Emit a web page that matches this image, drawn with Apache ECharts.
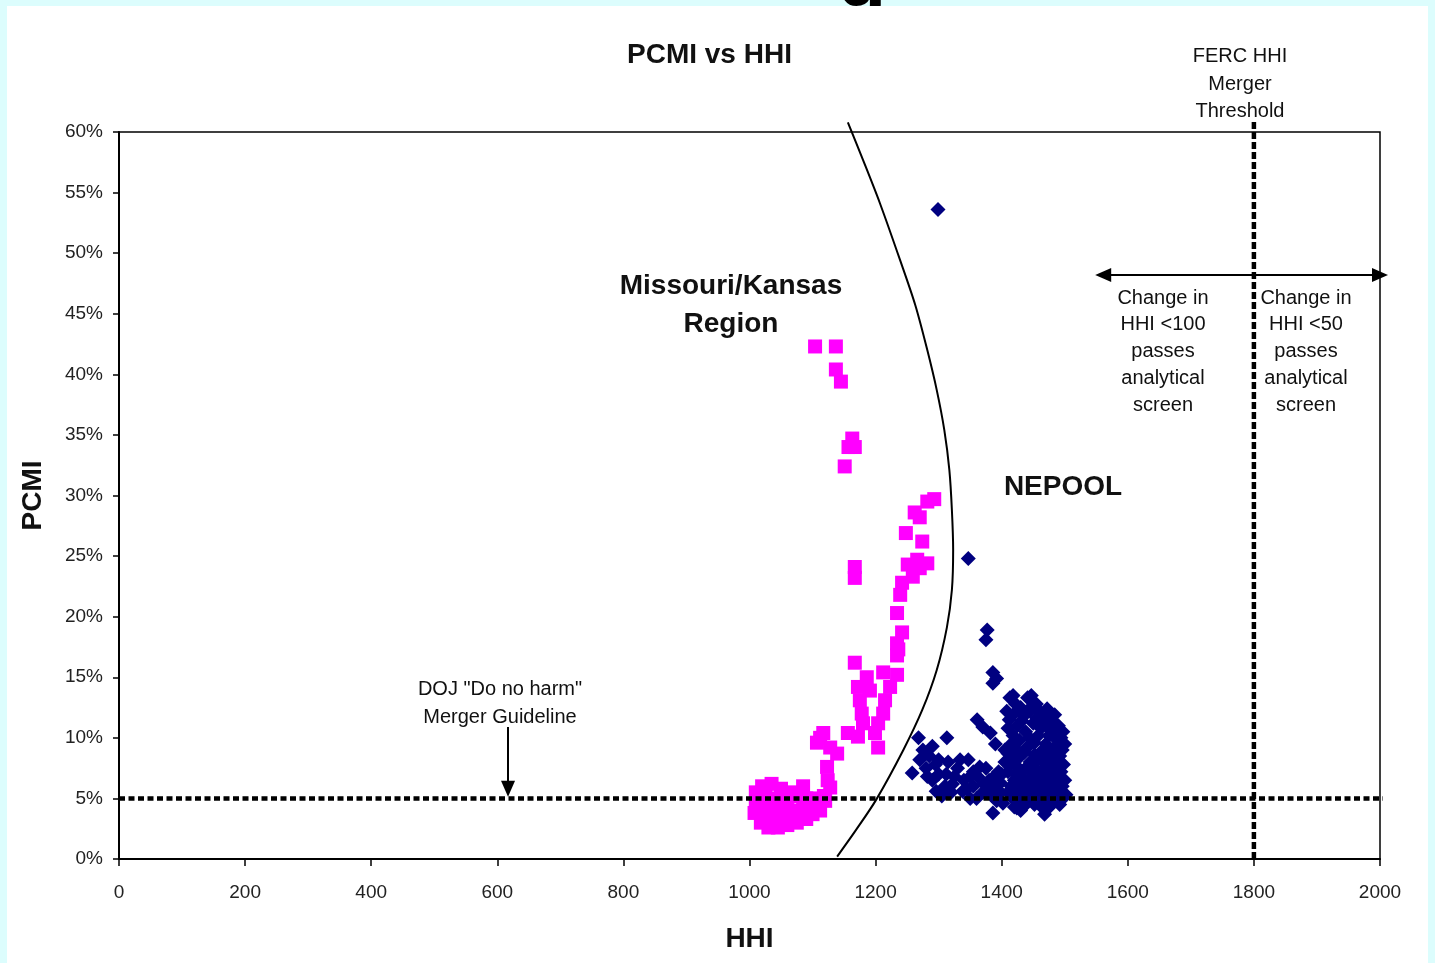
<!DOCTYPE html>
<html>
<head>
<meta charset="utf-8">
<script src="https://cdn.jsdelivr.net/npm/echarts@6/dist/echarts.min.js"></script>
<style>
  html, body { margin: 0; padding: 0; background: #dcfdfd; }
  #main { width: 1435px; height: 963px; }
</style>
</head>
<body>
<div id="main"></div>
<script>
// Missouri/Kansas region points [HHI, PCMI %]
var mkPoints = [
  [1104,42.3],[1137,42.3],[1137,40.4],[1145,39.4],[1163,34.7],[1157,34.0],[1167,34.0],[1151,32.4],
  [1282,29.5],[1293,29.7],[1262,28.6],[1270,28.2],[1248,26.9],[1274,26.2],[1266,24.7],[1282,24.4],
  [1251,24.3],[1259,23.3],[1270,24.0],[1242,22.8],[1239,21.8],[1234,20.3],[1242,18.7],[1234,17.8],
  [1234,16.8],[1236,17.3],[1167,24.1],[1167,23.2],
  [1167,16.2],[1186,15.0],[1212,15.4],[1234,15.2],[1172,14.2],[1191,13.9],[1223,14.2],[1175,13.1],
  [1215,13.1],[1178,12.0],[1212,12.0],[1180,11.2],[1204,11.2],[1156,10.4],[1172,10.1],[1199,10.4],
  [1204,9.2],
  [1117,10.4],[1107,9.6],[1128,9.2],[1139,8.7],[1112,10.0],[1123,7.6],[1124,6.5],[1128,5.9],[1085,6.0],
  [1010,5.5],[1020,6.0],[1035,6.2],[1050,5.8],[1010,4.5],[1008,3.8],[1018,3.0],[1030,2.6],[1045,2.6],
  [1060,2.8],[1075,3.0],[1090,3.3],[1100,3.7],[1112,4.0],[1120,4.8],[1105,5.0],[1090,5.0],[1075,5.2],
  [1060,5.2],[1030,4.5],[1045,4.0],[1060,4.2],[1075,4.0],[1025,3.6],[1040,5.0],[1065,5.5],[1085,4.3],
  [1100,4.5],[1118,5.2],[1025,5.6],[1015,4.2],[1040,3.2],[1055,3.6],[1070,3.6]
];

// NEPOOL points [HHI, PCMI %]
var nepoolPoints = [
  [1299,53.6],[1347,24.8],[1377,18.9],[1375,18.1],[1386,15.4],[1392,14.9],[1386,14.5],
  [1418,13.5],[1447,13.5],
  [1268,10.0],[1313,10.0],[1361,11.5],[1370,10.9],[1382,10.4],[1390,9.5],
  [1275,9.0],[1285,8.5],[1290,9.3],[1270,8.2],[1280,7.5],[1258,7.1],[1295,7.8],[1300,7.0],[1290,6.5],
  [1310,6.0],[1320,5.5],[1305,5.2],[1325,6.8],[1330,7.5],[1315,8.0],[1334,8.2],[1347,8.2],[1340,6.5],
  [1355,7.2],[1338,5.6],[1350,5.0],[1300,8.2],[1282,6.8],[1312,7.0],[1322,6.2],[1296,5.6],
  [1362,6.8],[1375,7.5],[1380,6.5],[1392,6.0],[1395,7.2],[1370,5.5],[1385,5.2],[1355,6.0],[1398,5.5],
  [1400,7.0],[1405,8.0],[1386,3.8],[1345,5.8],[1360,5.0],[1372,6.2],[1388,6.8],[1398,6.3],[1365,7.6],
  [1378,5.8],[1350,6.8],[1392,4.8],[1402,4.6],
  [1413,13.3],[1441,13.3],[1420,12.0],[1430,12.5],[1445,12.2],[1455,12.8],[1465,11.8],[1478,11.5],
  [1490,11.0],[1497,10.5],[1410,10.8],[1425,11.0],[1438,10.5],[1450,11.2],[1462,10.8],[1475,10.2],
  [1488,9.8],[1500,9.5],[1415,9.5],[1428,9.8],[1440,9.2],[1452,9.6],[1465,9.0],[1478,8.8],[1492,8.5],
  [1405,9.0],[1418,8.2],[1430,8.5],[1445,8.0],[1458,8.2],[1470,7.8],[1485,7.5],[1498,7.8],
  [1410,7.2],[1422,7.0],[1435,7.3],[1448,6.8],[1460,7.0],[1473,6.6],[1487,6.8],[1500,6.5],
  [1415,6.0],[1428,5.8],[1440,6.2],[1452,5.6],[1465,5.9],[1478,5.5],[1490,5.8],[1502,5.3],
  [1418,5.0],[1432,4.8],[1445,5.1],[1458,4.7],[1470,5.0],[1485,4.8],[1497,5.0],
  [1420,4.3],[1438,4.5],[1465,4.2],[1430,4.0],[1468,3.7],[1424,4.2],[1474,4.2],
  [1408,12.2],[1422,12.8],[1435,11.8],[1448,12.6],[1460,12.2],[1472,12.4],[1484,11.9],[1412,11.5],
  [1432,11.4],[1456,11.6],[1470,11.0],[1482,10.6],[1494,10.0],[1418,10.2],[1444,10.0],[1458,10.2],
  [1470,9.5],[1484,9.2],[1496,9.0],[1410,8.7],[1424,9.0],[1436,8.8],[1452,8.6],[1464,8.4],[1478,8.2],
  [1492,8.0],[1412,7.8],[1425,7.6],[1440,7.6],[1453,7.4],[1466,7.4],[1480,7.0],[1494,7.2],[1420,6.5],
  [1432,6.6],[1445,6.5],[1458,6.4],[1470,6.2],[1484,6.2],[1496,6.0],[1410,5.5],[1422,5.4],[1436,5.5],
  [1448,5.8],[1460,5.3],[1474,5.4],[1486,5.2],[1426,4.6],[1452,4.5],[1480,4.6],[1492,4.5]
];

// hand drawn boundary curve between the two regions
var boundaryCurve = [
  [1156,60.8],[1180,57.7],[1207,54.1],[1239,49.4],[1263,45.7],[1282,42.0],[1297,38.7],[1309,35.4],
  [1317,32.1],[1321,28.8],[1323,25.5],[1321,22.2],[1313,19.1],[1297,15.6],[1274,12.3],[1244,9.0],
  [1201,4.9],[1169,2.4],[1139,0.2]
];

// reference lines
var dojLine = [[0,5],[2008,5]];
var fercLine = [[1800,0],[1800,61]];
var screenArrow = [[1561,48.2],[2000,48.2]];
var dojArrow = [[617,10.9],[617,5.8]];

var myChart = echarts.init(document.getElementById('main'));

var font = 'Liberation Sans, Arial, sans-serif';
var txt = function (x, y, text, size, bold) {
  return {
    type: 'text', x: x, y: y, z: 10,
    style: {
      text: text, fill: '#111', font: (bold ? 'bold ' : '') + size + 'px ' + font,
      align: 'center', verticalAlign: 'middle'
    }
  };
};

var option = {
  backgroundColor: '#dcfdfd',
  animation: false,
  title: {
    text: 'PCMI vs HHI',
    left: 627, top: 41, padding: 0,
    textStyle: { fontFamily: font, fontSize: 28, fontWeight: 'bold', color: '#111', lineHeight: 28 }
  },
  grid: {
    left: 119, right: 55, top: 132, bottom: 104,
    show: true, borderColor: '#000', borderWidth: 1.5, backgroundColor: 'transparent'
  },
  xAxis: {
    type: 'value', min: 0, max: 2000, interval: 200,
    name: 'HHI', nameLocation: 'middle', nameGap: 66,
    nameTextStyle: { fontFamily: font, fontSize: 28, fontWeight: 'bold', color: '#111' },
    axisLine: { lineStyle: { color: '#000', width: 2 } },
    axisTick: { length: 7, lineStyle: { color: '#000', width: 1.5 } },
    axisLabel: {
      margin: 24, fontFamily: font, fontSize: 19, color: '#222',
      formatter: function (v) { return String(v); }
    },
    splitLine: { show: false }
  },
  yAxis: {
    type: 'value', min: 0, max: 60, interval: 5,
    name: 'PCMI', nameLocation: 'middle', nameGap: 72,
    nameTextStyle: { fontFamily: font, fontSize: 28, fontWeight: 'bold', color: '#111' },
    axisLine: { show: true, lineStyle: { color: '#000', width: 2 } },
    axisTick: { show: true, length: 6, lineStyle: { color: '#000', width: 1.5 } },
    axisLabel: { margin: 16, fontFamily: font, fontSize: 19, color: '#222', formatter: '{value}%' },
    splitLine: { show: false }
  },
  graphic: [
    // partial slide title glyph above the white panel
    { type: 'text', x: 862, y: -16, z: -2,
      style: { text: 'g', fill: '#000', font: 'bold 80px ' + font, align: 'center', verticalAlign: 'middle' } },
    { type: 'rect', left: 7, top: 6, z: -1, shape: { width: 1421, height: 960 }, style: { fill: '#fff' } },
    txt(1240, 56, 'FERC HHI', 20),
    txt(1240, 84, 'Merger', 20),
    txt(1240, 111, 'Threshold', 20),
    txt(731, 286, 'Missouri/Kansas', 28, true),
    txt(731, 324, 'Region', 28, true),
    txt(1063, 487, 'NEPOOL', 28, true),
    txt(1163, 298, 'Change in', 20),
    txt(1163, 324, 'HHI <100', 20),
    txt(1163, 351, 'passes', 20),
    txt(1163, 378, 'analytical', 20),
    txt(1163, 405, 'screen', 20),
    txt(1306, 298, 'Change in', 20),
    txt(1306, 324, 'HHI <50', 20),
    txt(1306, 351, 'passes', 20),
    txt(1306, 378, 'analytical', 20),
    txt(1306, 405, 'screen', 20),
    txt(500, 689, 'DOJ "Do no harm"', 20),
    txt(500, 717, 'Merger Guideline', 20)
  ],
  series: [
    {
      name: 'DOJ', type: 'line', data: dojLine, symbol: 'none', clip: false, z: 3,
      lineStyle: { color: '#000', width: 4.5, type: [6, 3.5] }
    },
    {
      name: 'FERC', type: 'line', data: fercLine, symbol: 'none', clip: false, z: 3,
      lineStyle: { color: '#000', width: 4.5, type: [7, 3] }
    },
    {
      name: 'Missouri/Kansas', type: 'scatter', data: mkPoints,
      symbol: 'rect', symbolSize: 14, itemStyle: { color: '#ff00ff', opacity: 1 }, z: 2
    },
    {
      name: 'NEPOOL', type: 'scatter', data: nepoolPoints,
      symbol: 'diamond', symbolSize: 15, itemStyle: { color: '#000080', opacity: 1 }, z: 2
    },
    {
      name: 'Boundary', type: 'line', data: boundaryCurve, smooth: 0.3, symbol: 'none', clip: false, z: 4,
      lineStyle: { color: '#000', width: 2 },
      markLine: {
        silent: true, animation: false,
        label: { show: false },
        lineStyle: { color: '#000', width: 2, type: 'solid' },
        symbol: ['triangle', 'triangle'], symbolSize: [14, 16],
        data: [
          [{ coord: screenArrow[0] }, { coord: screenArrow[1] }],
          [{ coord: dojArrow[0], symbol: 'none' }, { coord: dojArrow[1], symbol: 'triangle' }]
        ]
      }
    }
  ]
};

myChart.setOption(option);
</script>
</body>
</html>
